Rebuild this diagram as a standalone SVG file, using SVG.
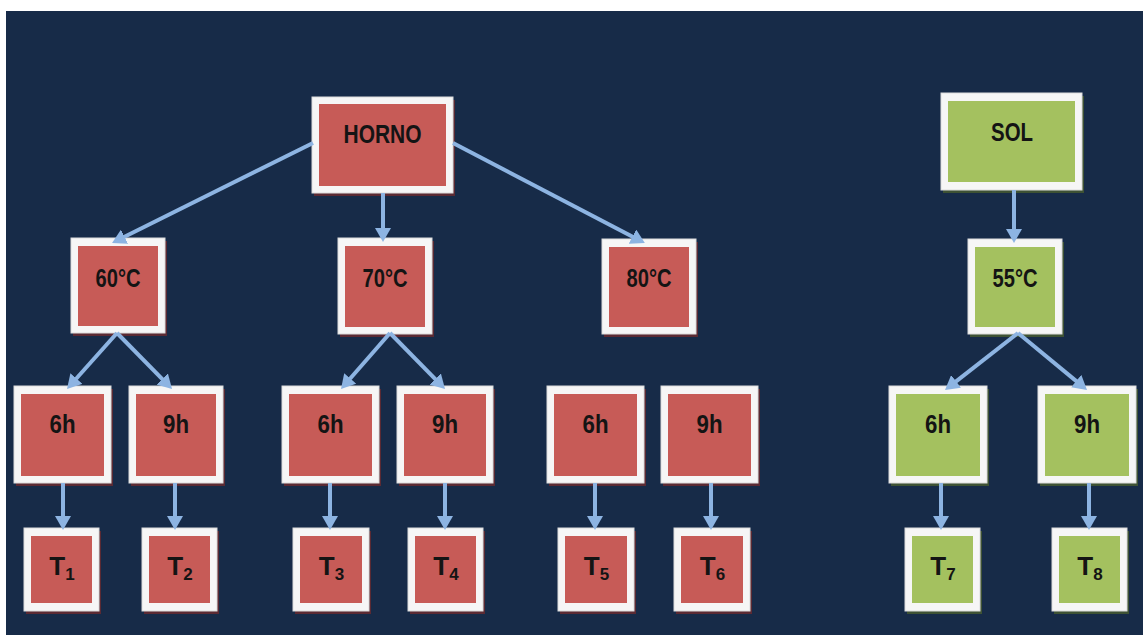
<svg xmlns="http://www.w3.org/2000/svg" width="1143" height="635" viewBox="0 0 1143 635">
<style>
.o{fill:#f6f6f6;stroke:#dcdcdc;stroke-width:1}
.r{fill:#c75b57}
.g{fill:#a4c15f}
.sr{fill:#5b2a33}
.sg{fill:#3e5234}
.t{font-family:"Liberation Sans",Arial,sans-serif;font-weight:bold;font-size:26px;fill:#141414;text-anchor:middle}
.s{font-size:17px}
.c{stroke:#8db4e2;stroke-width:4;fill:none;marker-end:url(#ah)}
</style>
<defs>
<marker id="ah" markerUnits="userSpaceOnUse" viewBox="0 0 14 16" refX="4" refY="8" markerWidth="14" markerHeight="16" orient="auto">
<path d="M0,0 L14,8 L0,16 z" fill="#8db4e2"/>
</marker>
</defs>
<rect x="0" y="0" width="1143" height="635" fill="#ffffff"/>
<rect x="6" y="11" width="1137" height="624" fill="#172b48"/>

<g id="horno"><rect class="sr" x="314" y="100" width="141" height="96"/><rect class="o" x="312" y="97" width="141" height="96"/><rect class="r" x="319" y="104" width="127" height="82"/><text class="t" x="382.5" y="143" textLength="78" lengthAdjust="spacingAndGlyphs">HORNO</text></g>
<g id="sol"><rect class="sg" x="943" y="96" width="141" height="97"/><rect class="o" x="941" y="93" width="141" height="97"/><rect class="g" x="948" y="101" width="127" height="81"/><text class="t" x="1012" y="141" textLength="42" lengthAdjust="spacingAndGlyphs">SOL</text></g>

<g id="t60"><rect class="sr" x="73" y="241" width="94" height="95"/><rect class="o" x="71" y="238" width="94" height="95"/><rect class="r" x="78" y="246" width="80" height="80"/><text class="t" x="118" y="287" textLength="45" lengthAdjust="spacingAndGlyphs">60°C</text></g>
<g id="t70"><rect class="sr" x="340" y="241" width="94" height="96"/><rect class="o" x="338" y="238" width="94" height="96"/><rect class="r" x="345" y="246" width="80" height="81"/><text class="t" x="385" y="287" textLength="45" lengthAdjust="spacingAndGlyphs">70°C</text></g>
<g id="t80"><rect class="sr" x="604" y="242" width="94" height="95"/><rect class="o" x="602" y="239" width="94" height="95"/><rect class="r" x="609" y="247" width="80" height="80"/><text class="t" x="649" y="287" textLength="45" lengthAdjust="spacingAndGlyphs">80°C</text></g>
<g id="t55"><rect class="sg" x="970" y="242" width="94" height="95"/><rect class="o" x="968" y="239" width="94" height="95"/><rect class="g" x="975" y="247" width="80" height="80"/><text class="t" x="1015" y="287" textLength="45" lengthAdjust="spacingAndGlyphs">55°C</text></g>

<g id="h6a"><rect class="sr" x="16" y="389" width="97" height="97"/><rect class="o" x="14" y="386" width="97" height="97"/><rect class="r" x="21" y="394" width="83" height="82"/><text class="t" x="62.5" y="433" textLength="26" lengthAdjust="spacingAndGlyphs">6h</text></g>
<g id="h9a"><rect class="sr" x="131" y="389" width="94" height="97"/><rect class="o" x="129" y="386" width="94" height="97"/><rect class="r" x="136" y="394" width="80" height="82"/><text class="t" x="176" y="433" textLength="26" lengthAdjust="spacingAndGlyphs">9h</text></g>
<g id="h6b"><rect class="sr" x="284" y="389" width="97" height="97"/><rect class="o" x="282" y="386" width="97" height="97"/><rect class="r" x="289" y="394" width="83" height="82"/><text class="t" x="330.5" y="433" textLength="26" lengthAdjust="spacingAndGlyphs">6h</text></g>
<g id="h9b"><rect class="sr" x="399" y="389" width="96" height="97"/><rect class="o" x="397" y="386" width="96" height="97"/><rect class="r" x="404" y="394" width="82" height="82"/><text class="t" x="445" y="433" textLength="26" lengthAdjust="spacingAndGlyphs">9h</text></g>
<g id="h6c"><rect class="sr" x="549" y="389" width="97" height="97"/><rect class="o" x="547" y="386" width="97" height="97"/><rect class="r" x="554" y="394" width="83" height="82"/><text class="t" x="595.5" y="433" textLength="26" lengthAdjust="spacingAndGlyphs">6h</text></g>
<g id="h9c"><rect class="sr" x="663" y="389" width="97" height="97"/><rect class="o" x="661" y="386" width="97" height="97"/><rect class="r" x="668" y="394" width="83" height="82"/><text class="t" x="709.5" y="433" textLength="26" lengthAdjust="spacingAndGlyphs">9h</text></g>
<g id="h6d"><rect class="sg" x="891" y="389" width="98" height="97"/><rect class="o" x="889" y="386" width="98" height="97"/><rect class="g" x="896" y="394" width="84" height="82"/><text class="t" x="938" y="433" textLength="26" lengthAdjust="spacingAndGlyphs">6h</text></g>
<g id="h9d"><rect class="sg" x="1040" y="389" width="98" height="97"/><rect class="o" x="1038" y="386" width="98" height="97"/><rect class="g" x="1045" y="394" width="84" height="82"/><text class="t" x="1087" y="433" textLength="26" lengthAdjust="spacingAndGlyphs">9h</text></g>

<g id="T1"><rect class="sr" x="26" y="531" width="75" height="83"/><rect class="o" x="24" y="528" width="75" height="83"/><rect class="r" x="31" y="536" width="61" height="67"/><text class="t" x="62" y="575">T<tspan class="s" dy="5">1</tspan></text></g>
<g id="T2"><rect class="sr" x="144" y="531" width="75" height="83"/><rect class="o" x="142" y="528" width="75" height="83"/><rect class="r" x="149" y="536" width="61" height="67"/><text class="t" x="180" y="575">T<tspan class="s" dy="5">2</tspan></text></g>
<g id="T3"><rect class="sr" x="295" y="531" width="76" height="83"/><rect class="o" x="293" y="528" width="76" height="83"/><rect class="r" x="300" y="536" width="62" height="67"/><text class="t" x="331.5" y="575">T<tspan class="s" dy="5">3</tspan></text></g>
<g id="T4"><rect class="sr" x="410" y="531" width="75" height="83"/><rect class="o" x="408" y="528" width="75" height="83"/><rect class="r" x="415" y="536" width="61" height="67"/><text class="t" x="446" y="575">T<tspan class="s" dy="5">4</tspan></text></g>
<g id="T5"><rect class="sr" x="560" y="531" width="76" height="83"/><rect class="o" x="558" y="528" width="76" height="83"/><rect class="r" x="565" y="536" width="62" height="67"/><text class="t" x="596.5" y="575">T<tspan class="s" dy="5">5</tspan></text></g>
<g id="T6"><rect class="sr" x="676" y="531" width="76" height="83"/><rect class="o" x="674" y="528" width="76" height="83"/><rect class="r" x="681" y="536" width="62" height="67"/><text class="t" x="712.5" y="575">T<tspan class="s" dy="5">6</tspan></text></g>
<g id="T7"><rect class="sg" x="907" y="531" width="75" height="83"/><rect class="o" x="905" y="528" width="75" height="83"/><rect class="g" x="912" y="536" width="61" height="67"/><text class="t" x="943" y="575">T<tspan class="s" dy="5">7</tspan></text></g>
<g id="T8"><rect class="sg" x="1054" y="531" width="75" height="83"/><rect class="o" x="1052" y="528" width="75" height="83"/><rect class="g" x="1059" y="536" width="61" height="67"/><text class="t" x="1090" y="575">T<tspan class="s" dy="5">8</tspan></text></g>

<g id="connectors">
<line class="c" x1="313" y1="143" x2="121" y2="238.5"/>
<line class="c" x1="383" y1="193" x2="383" y2="232"/>
<line class="c" x1="453" y1="143" x2="636" y2="238.4"/>
<line class="c" x1="1014" y1="190" x2="1014" y2="233"/>
<line class="c" x1="117" y1="333" x2="73.7" y2="381.5"/>
<line class="c" x1="117" y1="333" x2="165" y2="381.9"/>
<line class="c" x1="390" y1="333" x2="347.6" y2="381.5"/>
<line class="c" x1="390" y1="333" x2="438" y2="381.9"/>
<line class="c" x1="1018" y1="333" x2="952.9" y2="383.8"/>
<line class="c" x1="1018" y1="333" x2="1079.3" y2="383.6"/>
<line class="c" x1="63" y1="483" x2="63" y2="520"/>
<line class="c" x1="175" y1="483" x2="175" y2="520"/>
<line class="c" x1="330" y1="483" x2="330" y2="520"/>
<line class="c" x1="445" y1="483" x2="445" y2="520"/>
<line class="c" x1="595" y1="483" x2="595" y2="520"/>
<line class="c" x1="711" y1="483" x2="711" y2="520"/>
<line class="c" x1="941" y1="483" x2="941" y2="520"/>
<line class="c" x1="1089" y1="483" x2="1089" y2="520"/>
</g>
</svg>
